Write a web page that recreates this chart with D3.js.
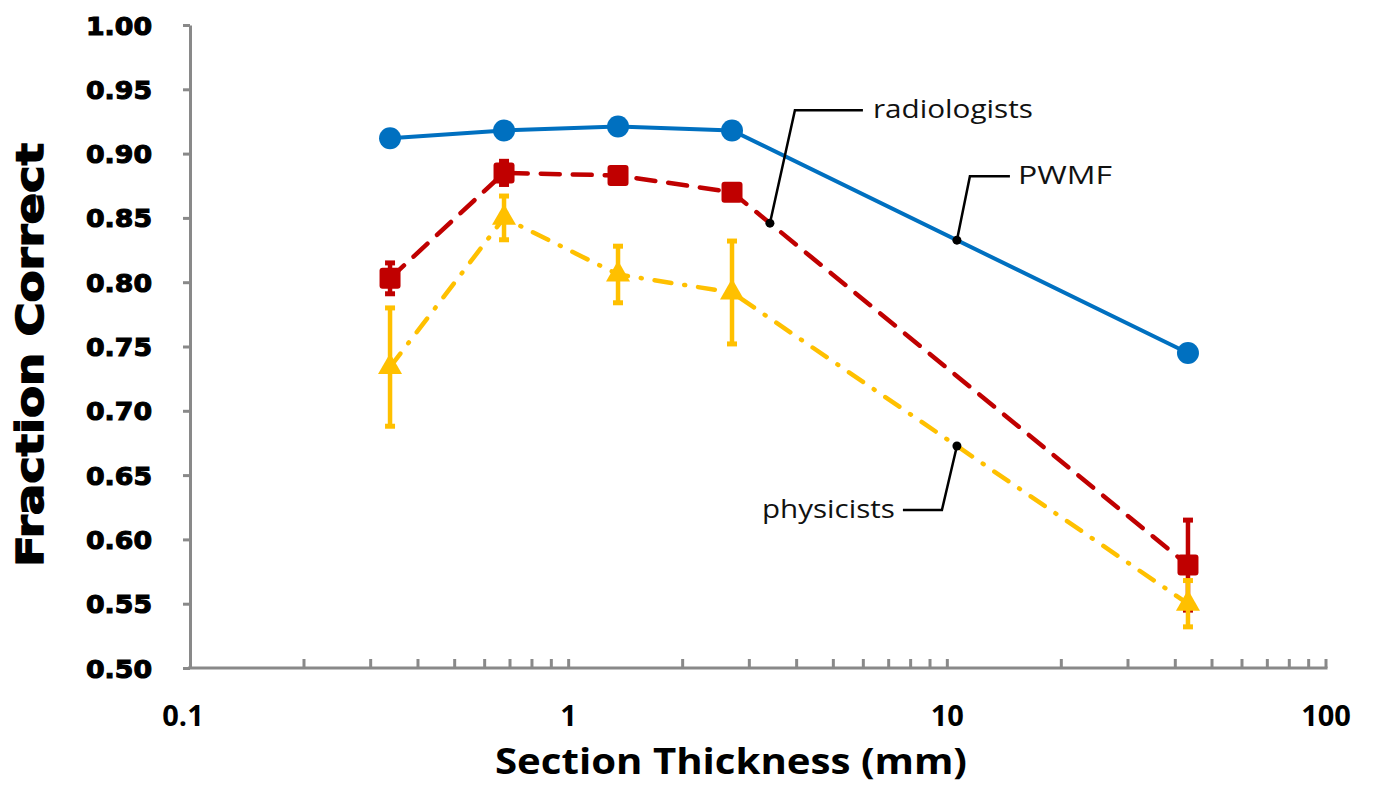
<!DOCTYPE html>
<html>
<head>
<meta charset="utf-8">
<script src="https://cdn.jsdelivr.net/npm/d3@7/dist/d3.min.js"></script>
<style>
  html, body { margin: 0; padding: 0; background: #fff; }
  svg { display: block; }
</style>
</head>
<body>
<svg id="chart" width="1373" height="791"></svg>
<script>
// ---- data ----
const thickness = [0.3375, 0.675, 1.35, 2.7, 43.2];
const pwmf = [0.912, 0.918, 0.921, 0.918, 0.745];
const radiologists = [0.803, 0.885, 0.883, 0.870, 0.580];
const radiologistsErr = [0.012, 0.009, 0.004, 0.004, 0.035];
const physicists = [0.734, 0.850, 0.806, 0.792, 0.550];
const physicistsErr = [0.046, 0.017, 0.022, 0.040, 0.018];
const yTicks = [0.50, 0.55, 0.60, 0.65, 0.70, 0.75, 0.80, 0.85, 0.90, 0.95, 1.00];
const xTicks = [0.1, 1, 10, 100];
const annotations = [
  { label: "radiologists", series: "radiologists", at: 3.4 },
  { label: "PWMF", series: "pwmf", at: 10.6 },
  { label: "physicists", series: "physicists", at: 10.6 }
];

const svg = d3.select("#chart");
const x = d3.scaleLog().domain([0.1, 100]).range([190, 1326]);
const y = d3.scaleLinear().domain([0.5, 1.0]).range([668, 25]);
const axisColor = "#898989";

// y axis
const yAxis = d3.axisLeft(y).tickValues(yTicks).tickFormat(d3.format(".2f")).tickSize(7).tickSizeOuter(0);
const gy = svg.append("g").attr("transform", "translate(190,0)").call(yAxis);
gy.select(".domain").attr("stroke", axisColor).attr("stroke-width", 3);
gy.selectAll(".tick line").attr("stroke", axisColor).attr("stroke-width", 3);
gy.selectAll(".tick text")
  .attr("x", -38).attr("dy", "0.36em")
  .attr("fill", "#000").attr("stroke", "#000").attr("stroke-width", 1.1)
  .style("font-family", "'DejaVu Sans', sans-serif")
  .style("font-weight", "bold").style("font-size", "25px")
  .attr("textLength", 66).attr("lengthAdjust", "spacingAndGlyphs");

// x axis (ticks inside, pointing up)
const minor = [];
for (let dec = 0.1; dec < 100; dec *= 10) for (let k = 2; k <= 9; k++) minor.push(+(dec * k).toPrecision(3));
const gx = svg.append("g").attr("transform", "translate(0,668)");
gx.append("line").attr("x1", 188).attr("x2", x(100) + 1.5).attr("y1", 0).attr("y2", 0)
  .attr("stroke", axisColor).attr("stroke-width", 3);
gx.selectAll("line.minor").data(minor.concat([1, 10, 100])).join("line").attr("class", "minor")
  .attr("x1", d => x(d)).attr("x2", d => x(d)).attr("y1", 0).attr("y2", -9)
  .attr("stroke", axisColor).attr("stroke-width", 3);
gx.selectAll("text").data(xTicks).join("text")
  .attr("x", d => x(d) - (d === 0.1 ? 7 : 0)).attr("y", 58)
  .attr("text-anchor", "middle")
  .style("font-family", "'Open Sans', sans-serif").style("font-weight", "bold").style("font-size", "29px")
  .text(d => d3.format("~g")(d));

// axis titles
svg.append("text").attr("x", 731).attr("y", 774).attr("text-anchor", "middle")
  .style("font-family", "'Open Sans', sans-serif").style("font-weight", "bold").style("font-size", "36px")
  .attr("textLength", 472).attr("lengthAdjust", "spacingAndGlyphs")
  .text("Section Thickness (mm)");
svg.append("text").attr("transform", "translate(43,355) rotate(-90)").attr("text-anchor", "middle")
  .attr("stroke", "#000").attr("stroke-width", 1.4)
  .style("font-family", "'DejaVu Sans', sans-serif").style("font-weight", "bold").style("font-size", "37px")
  .attr("textLength", 424).attr("lengthAdjust", "spacingAndGlyphs")
  .text("Fraction Correct");

const line = d3.line().x(d => x(d[0])).y(d => y(d[1]));
const pts = vals => thickness.map((t, i) => [t, vals[i]]);

const colors = { pwmf: "#0070C0", radiologists: "#C00000", physicists: "#FFC000" };

// PWMF
svg.append("path").attr("d", line(pts(pwmf))).attr("fill", "none")
  .attr("stroke", colors.pwmf).attr("stroke-width", 4);
svg.selectAll("circle.pwmf").data(pts(pwmf)).join("circle").attr("class", "pwmf")
  .attr("cx", d => x(d[0])).attr("cy", d => y(d[1])).attr("r", 11).attr("fill", colors.pwmf);

// radiologists
const gr = svg.append("g");
gr.append("path").attr("d", line(pts(radiologists))).attr("fill", "none")
  .attr("stroke", colors.radiologists).attr("stroke-width", 4.5)
  .attr("stroke-dasharray", "19,13").attr("stroke-linecap", "round");
function errorBars(g, vals, errs, color) {
  const d = thickness.map((t, i) => ({ t, v: vals[i], e: errs[i] }));
  g.selectAll("line.eb").data(d).join("line").attr("class", "eb")
    .attr("x1", d => x(d.t)).attr("x2", d => x(d.t))
    .attr("y1", d => y(d.v + d.e)).attr("y2", d => y(d.v - d.e))
    .attr("stroke", color).attr("stroke-width", 4.5);
  g.selectAll("line.capT").data(d).join("line").attr("class", "capT")
    .attr("x1", d => x(d.t) - 5).attr("x2", d => x(d.t) + 5)
    .attr("y1", d => y(d.v + d.e)).attr("y2", d => y(d.v + d.e))
    .attr("stroke", color).attr("stroke-width", 5);
  g.selectAll("line.capB").data(d).join("line").attr("class", "capB")
    .attr("x1", d => x(d.t) - 5).attr("x2", d => x(d.t) + 5)
    .attr("y1", d => y(d.v - d.e)).attr("y2", d => y(d.v - d.e))
    .attr("stroke", color).attr("stroke-width", 5);
}
errorBars(gr, radiologists, radiologistsErr, colors.radiologists);
gr.selectAll("rect.rad").data(pts(radiologists)).join("rect").attr("class", "rad")
  .attr("x", d => x(d[0]) - 10.5).attr("y", d => y(d[1]) - 10.5)
  .attr("width", 21).attr("height", 21).attr("rx", 3).attr("fill", colors.radiologists);

// physicists
const gp = svg.append("g");
gp.append("path").attr("d", line(pts(physicists))).attr("fill", "none")
  .attr("stroke", colors.physicists).attr("stroke-width", 4.5)
  .attr("stroke-dasharray", "17,13,1,13").attr("stroke-linecap", "round");
errorBars(gp, physicists, physicistsErr, colors.physicists);
const tri = d3.symbol().type(d3.symbolTriangle).size(250);
gp.selectAll("path.phy").data(pts(physicists)).join("path").attr("class", "phy")
  .attr("d", tri).attr("transform", d => `translate(${x(d[0])},${y(d[1])})`)
  .attr("fill", colors.physicists);

// annotations
const seriesVals = { pwmf, radiologists, physicists };
function valueAt(series, t) {
  const v = seriesVals[series];
  const lt = Math.log10(t);
  for (let i = 0; i < thickness.length - 1; i++) {
    const a = Math.log10(thickness[i]), b = Math.log10(thickness[i + 1]);
    if (lt >= a && lt <= b) return v[i] + (v[i + 1] - v[i]) * (lt - a) / (b - a);
  }
  return v[v.length - 1];
}
const layout = {
  radiologists: { elbow: [25, -113], end: [93, -113], tx: 103, anchor: "start", len: 160 },
  pwmf: { elbow: [13, -64], end: [53, -64], tx: 61, anchor: "start", len: 94 },
  physicists: { elbow: [-15, 64], end: [-54, 64], tx: -62, anchor: "end", len: 133 }
};
annotations.forEach(a => {
  const px = x(a.at), py = y(valueAt(a.series, a.at));
  const L = layout[a.series];
  svg.append("polyline")
    .attr("points", [[px, py], [px + L.elbow[0], py + L.elbow[1]], [px + L.end[0], py + L.end[1]]].map(p => p.join(",")).join(" "))
    .attr("fill", "none").attr("stroke", "#000").attr("stroke-width", 2.5);
  svg.append("circle").attr("cx", px).attr("cy", py).attr("r", 4.5).attr("fill", "#000");
  svg.append("text").attr("x", px + L.tx).attr("y", py + L.end[1]).attr("dy", "0.3em")
    .attr("text-anchor", L.anchor)
    .style("font-family", "'Open Sans', sans-serif").style("font-size", "26px")
    .attr("textLength", L.len).attr("lengthAdjust", "spacingAndGlyphs")
    .attr("fill", "#111")
    .text(a.label);
});
</script>
</body>
</html>
